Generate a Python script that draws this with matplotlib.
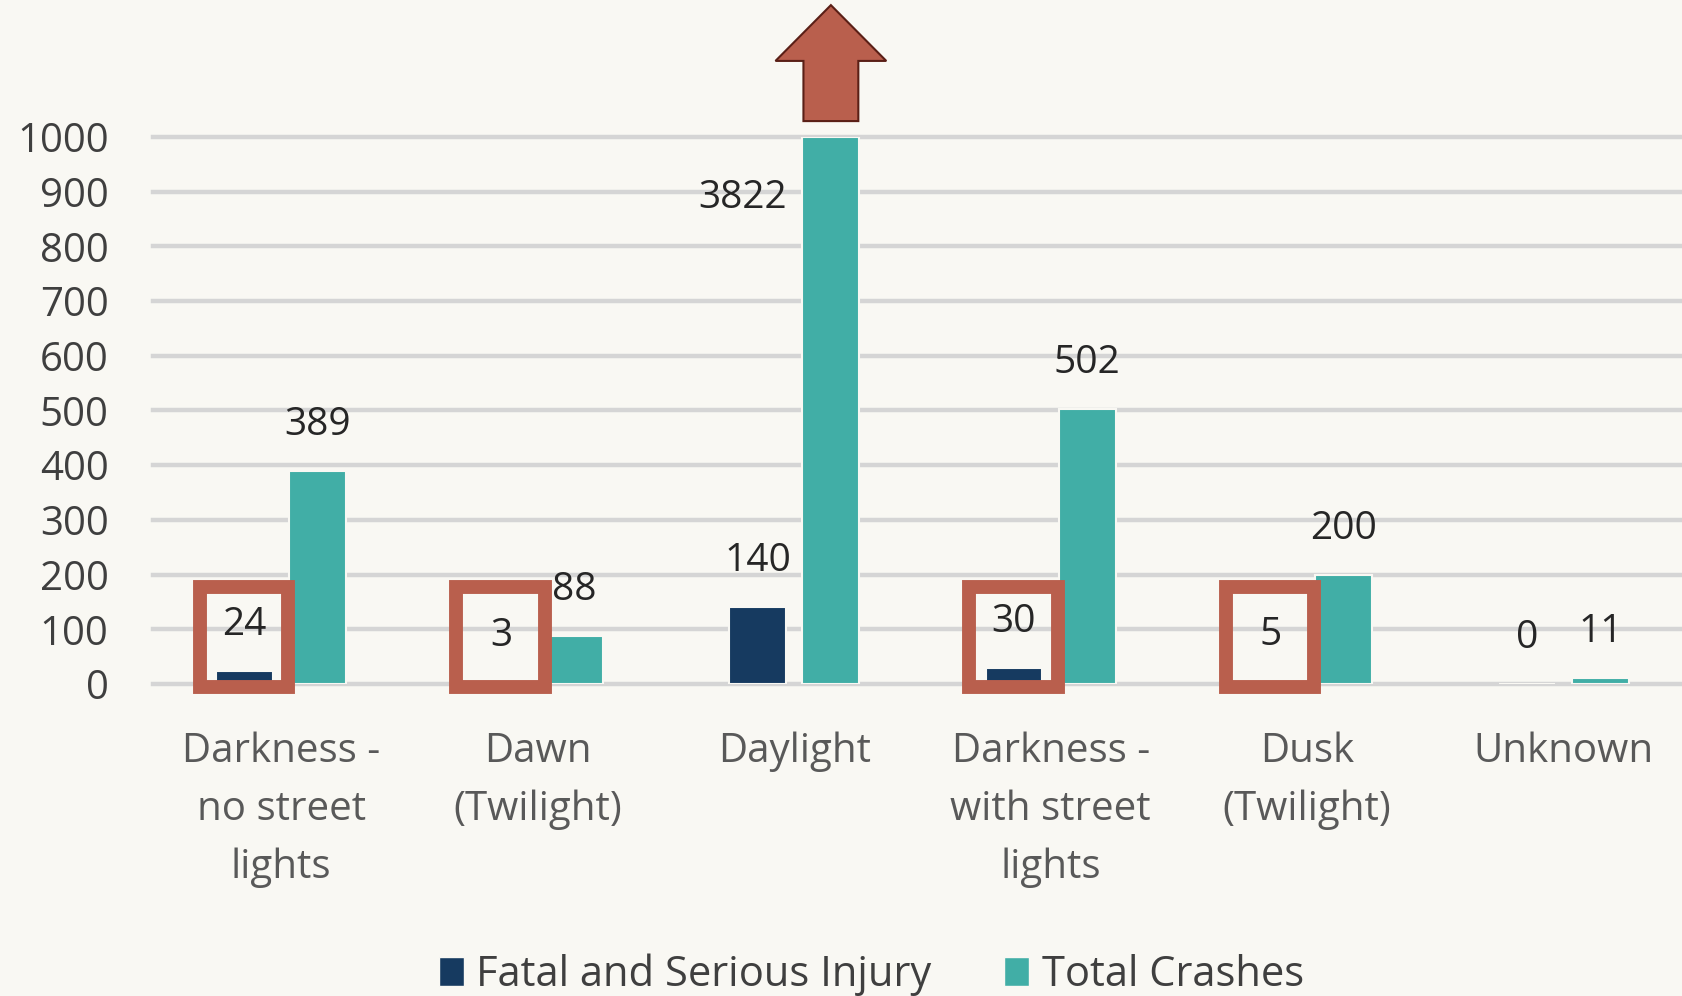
import matplotlib
matplotlib.use("Agg")
import matplotlib.pyplot as plt
from matplotlib.patches import Rectangle, Polygon, Patch
import numpy as np

categories = ["Darkness -\nno street\nlights", "Dawn\n(Twilight)", "Daylight",
              "Darkness -\nwith street\nlights", "Dusk\n(Twilight)", "Unknown"]
fatal_serious = [24, 3, 140, 30, 5, 0]
total_crashes = [389, 88, 3822, 502, 200, 11]
series_names = ["Fatal and Serious Injury", "Total Crashes"]
yticks = [0, 100, 200, 300, 400, 500, 600, 700, 800, 900, 1000]
highlighted = [0, 1, 3, 4]

BG = "#F9F8F3"
NAVY = "#163A60"
TEAL = "#41AEA6"
RED = "#B95F4D"

plt.rcParams['font.family'] = ['Open Sans', 'DejaVu Sans']

fig = plt.figure(figsize=(16.83, 9.96), dpi=100, facecolor=BG)
ax = fig.add_axes([0.0909, 0.3133, 0.9144, 0.5492], facecolor=BG)

x = np.arange(len(categories))
w = 0.222
off = 0.143
ymax = 1000
ax.bar(x - off, np.minimum(fatal_serious, ymax), w, color=NAVY, zorder=3,
       edgecolor=BG, linewidth=1.5)
ax.bar(x + off, np.minimum(total_crashes, ymax), w, color=TEAL, zorder=3,
       edgecolor=BG, linewidth=1.5)

ax.set_ylim(0, ymax)
ax.set_xlim(-0.5, len(categories) - 0.5)
ax.set_yticks(yticks)
ax.set_yticklabels([str(v) for v in yticks])
ax.grid(axis='y', color='#D5D5D5', linewidth=3.2, zorder=0)
for gl in ax.get_ygridlines():
    gl.set_clip_on(False)
ax.set_axisbelow(True)
for s in ax.spines.values():
    s.set_visible(False)
ax.tick_params(axis='y', length=0, pad=32, labelsize=29, labelcolor='#3F3F3F')
ax.tick_params(axis='x', length=0, pad=34, labelsize=29, labelcolor='#595959')
ax.set_xticks(x)
ax.set_xticklabels(categories, linespacing=1.58)

lab_off = 84  # data units above bar top
for i in range(len(categories)):
    f = fatal_serious[i]
    ax.text(x[i] - off, min(f, ymax) + lab_off, str(f), ha='center', va='center',
            fontsize=28, color='#262626', zorder=5)
    t = total_crashes[i]
    if t > ymax:
        ax.text(x[i] + off - w / 2 - 0.06, 888, str(t), ha='right', va='center',
                fontsize=28, color='#262626', zorder=5)
    else:
        ax.text(x[i] + off, t + lab_off, str(t), ha='center', va='center',
                fontsize=28, color='#262626', zorder=5)

# highlight boxes around the small fatal counts
bw = 0.345
for i in highlighted:
    cx = x[i] - off - 0.002
    r = Rectangle((cx - bw / 2, -5), bw, 182, fill=False, edgecolor=RED,
                  linewidth=10, joinstyle='miter', clip_on=False, zorder=6)
    ax.add_patch(r)

# arrow above the clipped Daylight bar
ib = int(np.argmax(total_crashes))
cx = x[ib] + off
hw, sw = 0.216, 0.107
arrow = Polygon([(cx - sw, 1029), (cx - sw, 1139), (cx - hw, 1139), (cx, 1241),
                 (cx + hw, 1139), (cx + sw, 1139), (cx + sw, 1029)],
                closed=True, facecolor=RED, edgecolor='#5A1F16', linewidth=1.5,
                clip_on=False, zorder=6)
ax.add_patch(arrow)

handles = [Patch(facecolor=NAVY, edgecolor=BG), Patch(facecolor=TEAL, edgecolor=BG)]
fig.legend(handles, series_names, loc='center', bbox_to_anchor=(0.5178, 0.021),
           ncol=2, frameon=False, fontsize=30, handlelength=0.6, handleheight=0.7,
           handletextpad=0.3, columnspacing=1.75, labelcolor='#3F3F3F')

fig.savefig("out.png", dpi=100, facecolor=BG)
